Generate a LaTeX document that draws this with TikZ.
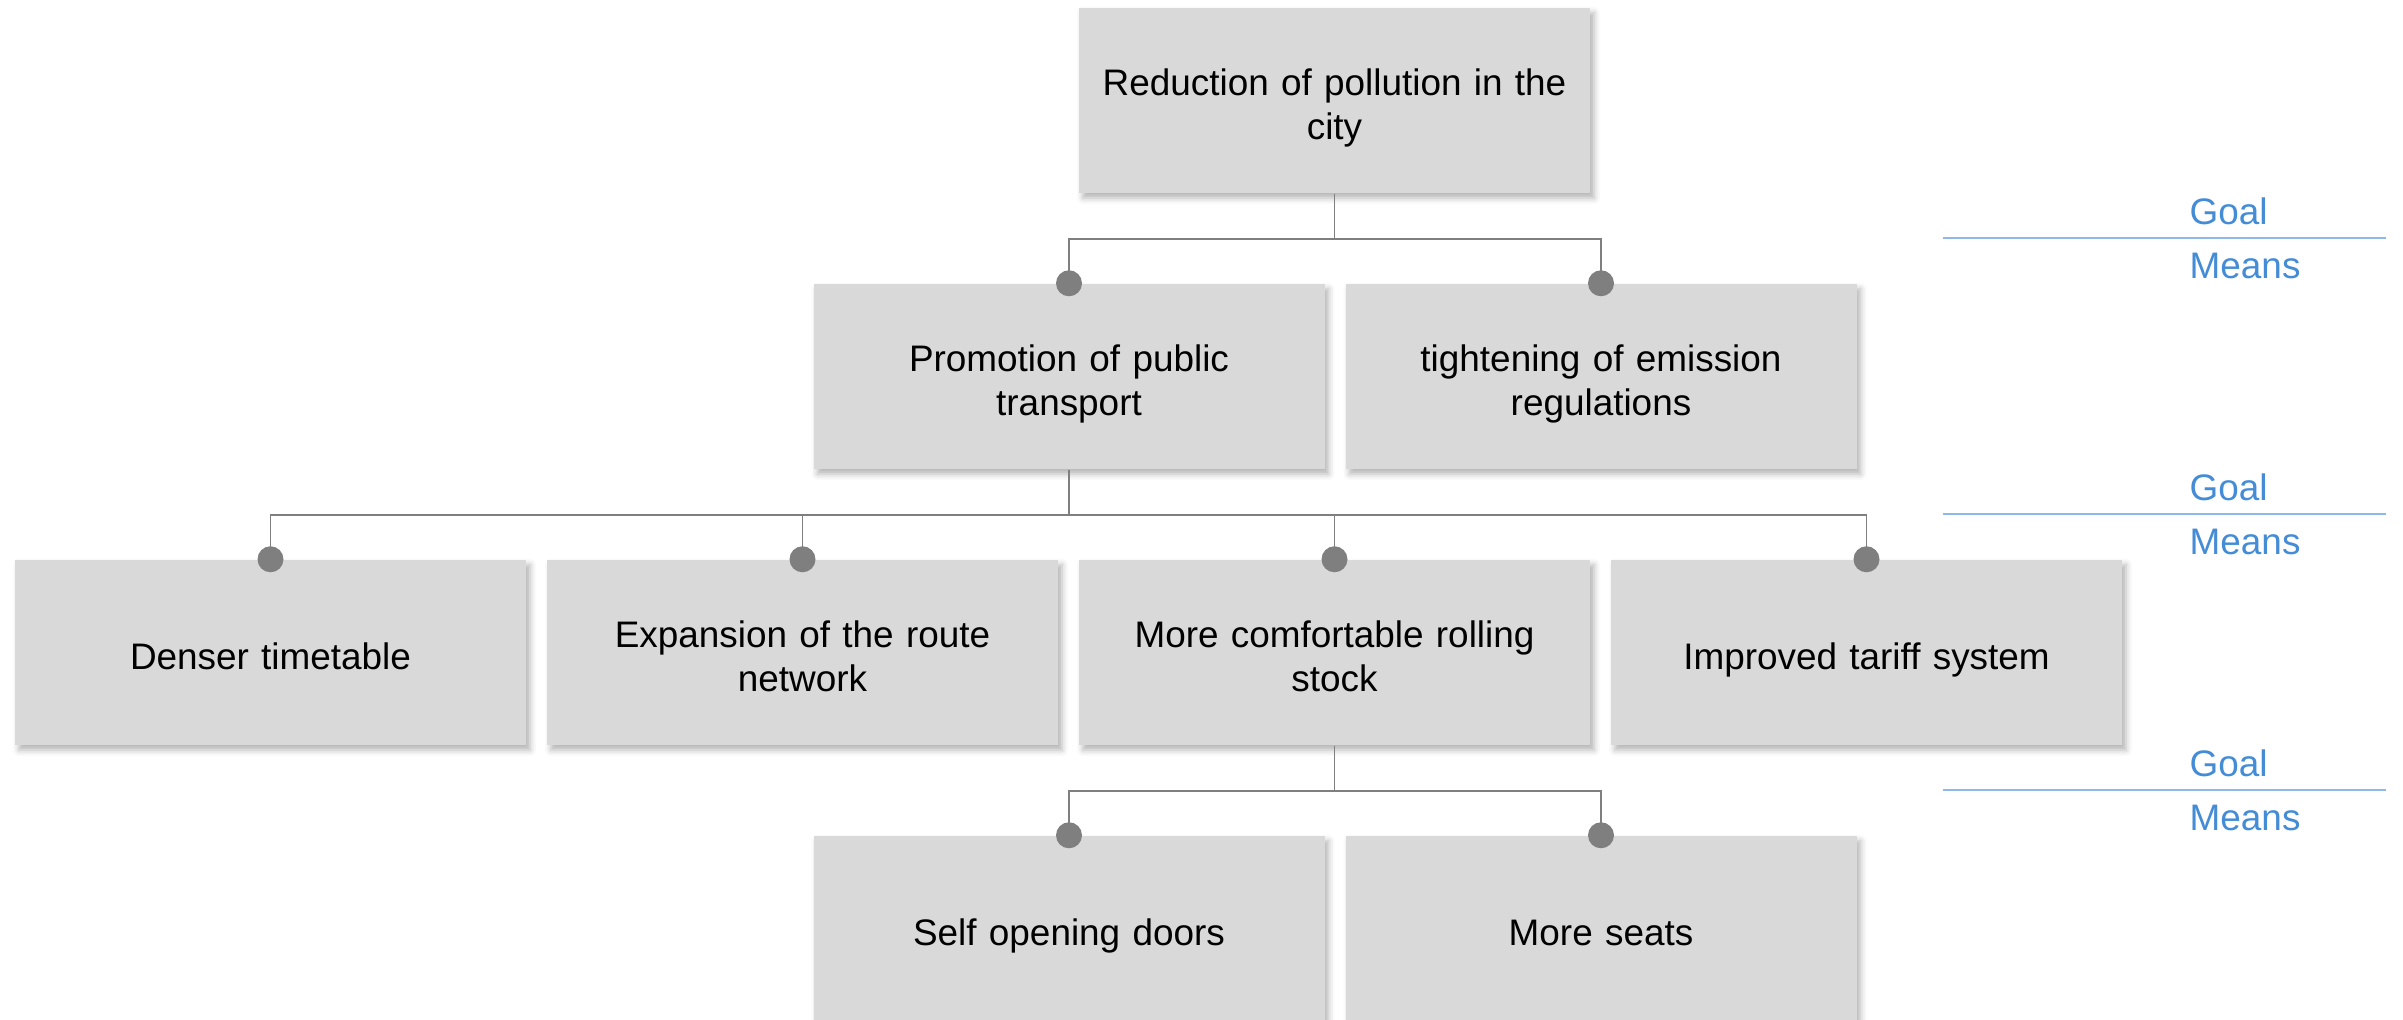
\documentclass[tikz,border=0pt]{standalone}
\usepackage{fontspec}
\setmainfont{Liberation Sans}
\usepackage{xcolor}
\usetikzlibrary{shadows.blur}
\definecolor{boxgray}{HTML}{D9D9D9}
\definecolor{dotgray}{HTML}{7F7F7F}
\definecolor{goalblue}{HTML}{448CD6}
\definecolor{rulblue}{HTML}{8DB8E8}
\newcommand{\topstrut}{\vrule height 12pt depth 0pt width 0pt}
\newcommand{\botstrut}{\vrule height 0pt depth 2.5pt width 0pt}
\tikzset{
    BX/.style ={rectangle,minimum width = 5.11cm, minimum height = 1.85cm, fill=boxgray,
        text width=4.8cm, align=center,
        font=\fontsize{10.5}{12.5}\selectfont,
        execute at begin node=\topstrut, execute at end node=\botstrut,
        blur shadow={shadow xshift=0.04cm, shadow yshift=-0.05cm, shadow blur radius=0.06cm, shadow opacity=30}},
    LN/.style ={draw=dotgray, line width=0.55pt},
    DT/.style ={fill=dotgray},
    GL/.style ={anchor=base west, text=goalblue, font=\fontsize{10.5}{12.5}\selectfont, inner sep=0pt},
    RL/.style ={draw=rulblue, line width=0.6pt}
}
\begin{document}
\begin{tikzpicture}
        \useasboundingbox (0,0) rectangle (24.03,10.20);
        % goal
        \node[BX] (top) at (13.345,9.195) {Reduction of pollution in the\\city};
        % first means
        \node[BX] (pub) at (10.69,6.435) {Promotion of public\\transport};
        \node[BX] (emi) at (16.01,6.435) {tightening of emission\\regulations};
        % second means
        \node[BX] (den) at (2.705,3.675) {Denser timetable};
        \node[BX] (rte) at (8.025,3.675) {Expansion of the route\\network};
        \node[BX] (stk) at (13.345,3.675) {More comfortable rolling\\stock};
        \node[BX] (trf) at (18.665,3.675) {Improved tariff system};
        % third means
        \node[BX] (dor) at (10.69,0.915) {Self opening doors};
        \node[BX] (sts) at (16.01,0.915) {More seats};
        % connectors
        \draw[LN] (top.south) -- ++(0,-0.45) -| (pub.north);
        \draw[LN] (top.south) -- ++(0,-0.45) -| (emi.north);
        \draw[LN] (pub.south) -- ++(0,-0.45) -| (den.north);
        \draw[LN] (pub.south) -- ++(0,-0.45) -| (rte.north);
        \draw[LN] (pub.south) -- ++(0,-0.45) -| (stk.north);
        \draw[LN] (pub.south) -- ++(0,-0.45) -| (trf.north);
        \draw[LN] (stk.south) -- ++(0,-0.45) -| (dor.north);
        \draw[LN] (stk.south) -- ++(0,-0.45) -| (sts.north);
        \fill[DT] (pub.north) circle (0.13);
        \fill[DT] (emi.north) circle (0.13);
        \fill[DT] (den.north) circle (0.13);
        \fill[DT] (rte.north) circle (0.13);
        \fill[DT] (stk.north) circle (0.13);
        \fill[DT] (trf.north) circle (0.13);
        \fill[DT] (dor.north) circle (0.13);
        \fill[DT] (sts.north) circle (0.13);
        % goal / means rulers
        \coordinate (r1a) at (19.43,7.82); \coordinate (r1b) at (23.86,7.82);
        \coordinate (r2a) at (19.43,5.06); \coordinate (r2b) at (23.86,5.06);
        \coordinate (r3a) at (19.43,2.30); \coordinate (r3b) at (23.86,2.30);
        \draw[RL] (r1a) -- (r1b);
        \draw[RL] (r2a) -- (r2b);
        \draw[RL] (r3a) -- (r3b);
        \node[GL] (g1) at (21.89,7.95) {Goal};
        \node[GL] (m1) at (21.89,7.41) {Means};
        \node[GL] (g2) at (21.89,5.19) {Goal};
        \node[GL] (m2) at (21.89,4.65) {Means};
        \node[GL] (g3) at (21.89,2.43) {Goal};
        \node[GL] (m3) at (21.89,1.89) {Means};
    \end{tikzpicture}
\end{document}
